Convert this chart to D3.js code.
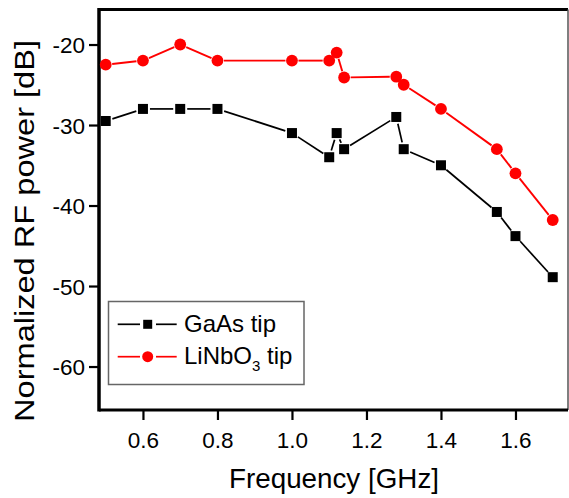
<!DOCTYPE html>
<html>
<head>
<meta charset="utf-8">
<script src="https://cdn.jsdelivr.net/npm/d3@7"></script>
<style>
  html, body { margin: 0; padding: 0; background: #fff; }
  svg { display: block; }
  text { font-family: "Liberation Sans", Arial, sans-serif; fill: #000; }
</style>
</head>
<body>
<svg id="chart" width="569" height="498"></svg>
<script>
// ---- data ----
const freq = [0.5, 0.6, 0.7, 0.8, 1.0, 1.1, 1.12, 1.14, 1.28, 1.3, 1.4, 1.55, 1.6, 1.7];
const gaasTip = [-29.5, -28, -28, -28, -31, -34, -31, -33, -29, -33, -35, -40.8, -43.8, -48.9];
const linbo3Tip = [-22.5, -22, -20, -22, -22, -22, -21, -24.1, -24, -25, -28, -33, -36, -41.8];
const xTicks = [0.6, 0.8, 1.0, 1.2, 1.4, 1.6];
const yTicks = [-60, -50, -40, -30, -20];
const seriesNames = ["GaAs tip", "LiNbO3 tip"];

// ---- layout ----
const svg = d3.select("#chart");
const pLeft = 99, pRight = 568, pTop = 9.5, pBottom = 410;

const x = d3.scaleLinear().domain([0.482, 1.741]).range([pLeft, pRight]);
const y = d3.scaleLinear().domain([-65.4, -15.65]).range([pBottom, pTop]);

// axes
const xAxis = svg.append("g")
  .attr("transform", `translate(0,${pBottom})`)
  .call(d3.axisBottom(x).tickValues(xTicks).tickFormat(d3.format(".1f")).tickSize(10).tickPadding(12));
const yAxis = svg.append("g")
  .attr("transform", `translate(${pLeft},0)`)
  .call(d3.axisLeft(y).tickValues(yTicks).tickFormat(d => String(d)).tickSize(10).tickPadding(4));

[xAxis, yAxis].forEach(g => {
  g.select(".domain").remove();
  g.selectAll(".tick line").attr("stroke", "#000").attr("stroke-width", 2.2);
  g.selectAll(".tick text").attr("font-family", "Liberation Sans, Arial, sans-serif")
    .attr("font-size", 22.5).attr("fill", "#000");
});
yAxis.selectAll(".tick text").attr("dy", "0.36em");

// frame
svg.append("line").attr("x1", pLeft).attr("x2", pRight).attr("y1", pTop).attr("y2", pTop)
  .attr("stroke", "#000").attr("stroke-width", 3);
svg.append("line").attr("x1", pRight).attr("x2", pRight).attr("y1", pTop).attr("y2", pBottom)
  .attr("stroke", "#555").attr("stroke-width", 1.5);
svg.append("line").attr("x1", pLeft).attr("x2", pRight).attr("y1", pBottom).attr("y2", pBottom)
  .attr("stroke", "#000").attr("stroke-width", 3);
svg.append("line").attr("x1", pLeft).attr("x2", pLeft).attr("y1", pTop - 1.5).attr("y2", pBottom + 1.5)
  .attr("stroke", "#000").attr("stroke-width", 3.5);

// series: line segments with a small gap around each symbol
const gaasData = freq.map((f, i) => [f, gaasTip[i]]);
const linData = freq.map((f, i) => [f, linbo3Tip[i]]);

function segments(data, gap) {
  const pts = data.map(d => [x(d[0]), y(d[1])]);
  const segs = [];
  for (let i = 0; i < pts.length - 1; i++) {
    const [x1, y1] = pts[i], [x2, y2] = pts[i + 1];
    const L = Math.hypot(x2 - x1, y2 - y1);
    if (L <= 2 * gap + 1) continue;
    const ux = (x2 - x1) / L, uy = (y2 - y1) / L;
    segs.push([x1 + ux * gap, y1 + uy * gap, x2 - ux * gap, y2 - uy * gap]);
  }
  return segs;
}

svg.append("g").selectAll("line").data(segments(gaasData, 7)).join("line")
  .attr("x1", d => d[0]).attr("y1", d => d[1]).attr("x2", d => d[2]).attr("y2", d => d[3])
  .attr("stroke", "#000").attr("stroke-width", 1.7);
svg.append("g").selectAll("line").data(segments(linData, 6.5)).join("line")
  .attr("x1", d => d[0]).attr("y1", d => d[1]).attr("x2", d => d[2]).attr("y2", d => d[3])
  .attr("stroke", "#ff0000").attr("stroke-width", 1.9);

const sq = 10;
svg.append("g").selectAll("rect").data(gaasData).join("rect")
  .attr("x", d => x(d[0]) - sq / 2).attr("y", d => y(d[1]) - sq / 2)
  .attr("width", sq).attr("height", sq).attr("fill", "#000");
svg.append("g").selectAll("circle").data(linData).join("circle")
  .attr("cx", d => x(d[0])).attr("cy", d => y(d[1])).attr("r", 5.9).attr("fill", "#ff0000");

// legend
const lg = svg.append("g");
lg.append("rect").attr("x", 108.5).attr("y", 301.5).attr("width", 195.5).attr("height", 83)
  .attr("fill", "#fff").attr("stroke", "#666").attr("stroke-width", 1.5);
const ly = [324.3, 356.7];
const lcol = ["#000", "#ff0000"];
ly.forEach((yy, i) => {
  lg.append("line").attr("x1", 117.7).attr("x2", 140).attr("y1", yy).attr("y2", yy)
    .attr("stroke", lcol[i]).attr("stroke-width", 1.7);
  lg.append("line").attr("x1", 156).attr("x2", 176.7).attr("y1", yy).attr("y2", yy)
    .attr("stroke", lcol[i]).attr("stroke-width", 1.7);
});
lg.append("rect").attr("x", 147.7 - 4.5).attr("y", ly[0] - 4.5).attr("width", 9).attr("height", 9).attr("fill", "#000");
lg.append("circle").attr("cx", 147.7).attr("cy", ly[1]).attr("r", 5.5).attr("fill", "#ff0000");
lg.append("text").attr("x", 184).attr("y", 331.5).attr("font-size", 24).text(seriesNames[0]);
const t2 = lg.append("text").attr("x", 184).attr("y", 364).attr("font-size", 24);
t2.append("tspan").text("LiNbO");
t2.append("tspan").attr("font-size", 15).attr("dy", 7).text("3");
t2.append("tspan").attr("dy", -7).text(" tip");

// axis titles
svg.append("text").attr("x", 229).attr("y", 488).attr("font-size", 28)
  .attr("textLength", 210).attr("lengthAdjust", "spacingAndGlyphs")
  .text("Frequency [GHz]");
svg.append("text").attr("transform", "translate(34,422) rotate(-90)")
  .attr("font-size", 28).attr("textLength", 382).attr("lengthAdjust", "spacingAndGlyphs")
  .text("Normalized RF power [dB]");
</script>
</body>
</html>
